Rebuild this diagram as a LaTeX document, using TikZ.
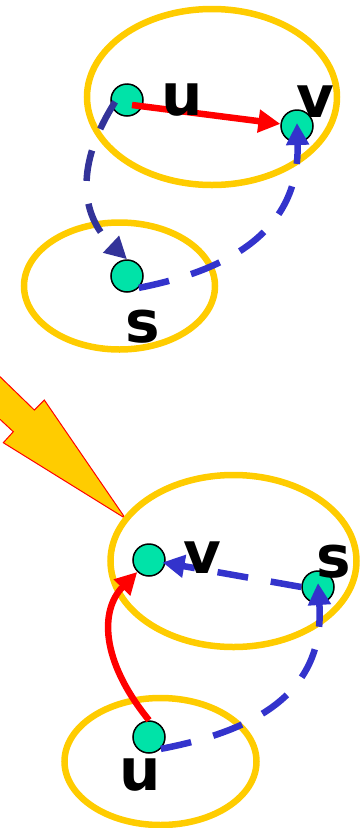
\documentclass[tikz,border=0pt]{standalone}
\usepackage{xcolor}
\usepackage{fontspec}
\setmainfont{DejaVu Sans}
\usetikzlibrary{arrows.meta}
\definecolor{gold}{HTML}{FFCC00}
\definecolor{mint}{HTML}{00E3A8}
\definecolor{navy}{HTML}{333399}
\definecolor{royal}{HTML}{3333CC}

\begin{document}
\begin{tikzpicture}[x=1pt,y=-1pt,
  vertex/.style={circle,draw=black,line width=1.5pt,fill=mint,minimum size=32pt,inner sep=0pt},
  group/.style={draw=gold,line width=6.5pt},
  vname/.style={inner sep=0pt,font=\fontsize{58}{58}\selectfont\bfseries},
  redarc/.style={red,line width=6.5pt,-{Triangle[length=22pt,width=22pt]}},
  bluearc/.style={line width=6.5pt,dash pattern=on 31pt off 23pt,-{Triangle[length=22pt,width=22pt]}}]
\useasboundingbox (0,0) rectangle (360,828);
% before
\draw[group] (212,97) ellipse [x radius=125, y radius=88];
\draw[group] (119.5,286) ellipse [x radius=95.5, y radius=63.5];
\node[vertex] (u1) at (127,100) {};
\node[vertex] (v1) at (297,126) {};
\node[vertex] (s1) at (127,276) {};
\draw[redarc] ([shift={(5,5)}]u1.center) -- (v1);
\draw[bluearc,navy] ([yshift=10pt]u1.south west) .. controls (75,165) and (80,215) .. (s1.north);
\draw[bluearc,royal] (s1.south east) .. controls (230,270) and (300,230) .. ([yshift=3pt]v1.center);
\node[vname] (lu1) at (182,100) {u};
\node[vname] (lv1) at (315,102) {v};
\node[vname] (ls1) at (143,327) {s};
% arrow
\filldraw[fill=gold,draw=red,line width=1pt] (0,376.7) -- (34.3,410) -- (44.3,400) -- (125.5,518.5)
  -- (3.3,442.7) -- (13.3,431.7) -- (0,419.3);
% after
\draw[group] (233.5,561) ellipse [x radius=123, y radius=86];
\draw[group] (160.5,761.5) ellipse [x radius=96, y radius=63.5];
\node[vertex] (v2) at (149,560) {};
\node[vertex] (s2) at (318,587) {};
\node[vertex] (u2) at (149,737) {};
\draw[redarc] (u2.north) .. controls (100,660) and (100,610) .. (v2);
\draw[bluearc,royal,shorten >=-3pt] (s2.west) -- (v2);
\draw[bluearc,royal] (u2.south east) .. controls (260,730) and (325,690) .. ([yshift=4pt]s2.center);
\node[vname] (lv2) at (202,558) {v};
\node[vname] (ls2) at (334,562) {s};
\node[vname] (lu2) at (140,775) {u};
\end{tikzpicture}
\end{document}
